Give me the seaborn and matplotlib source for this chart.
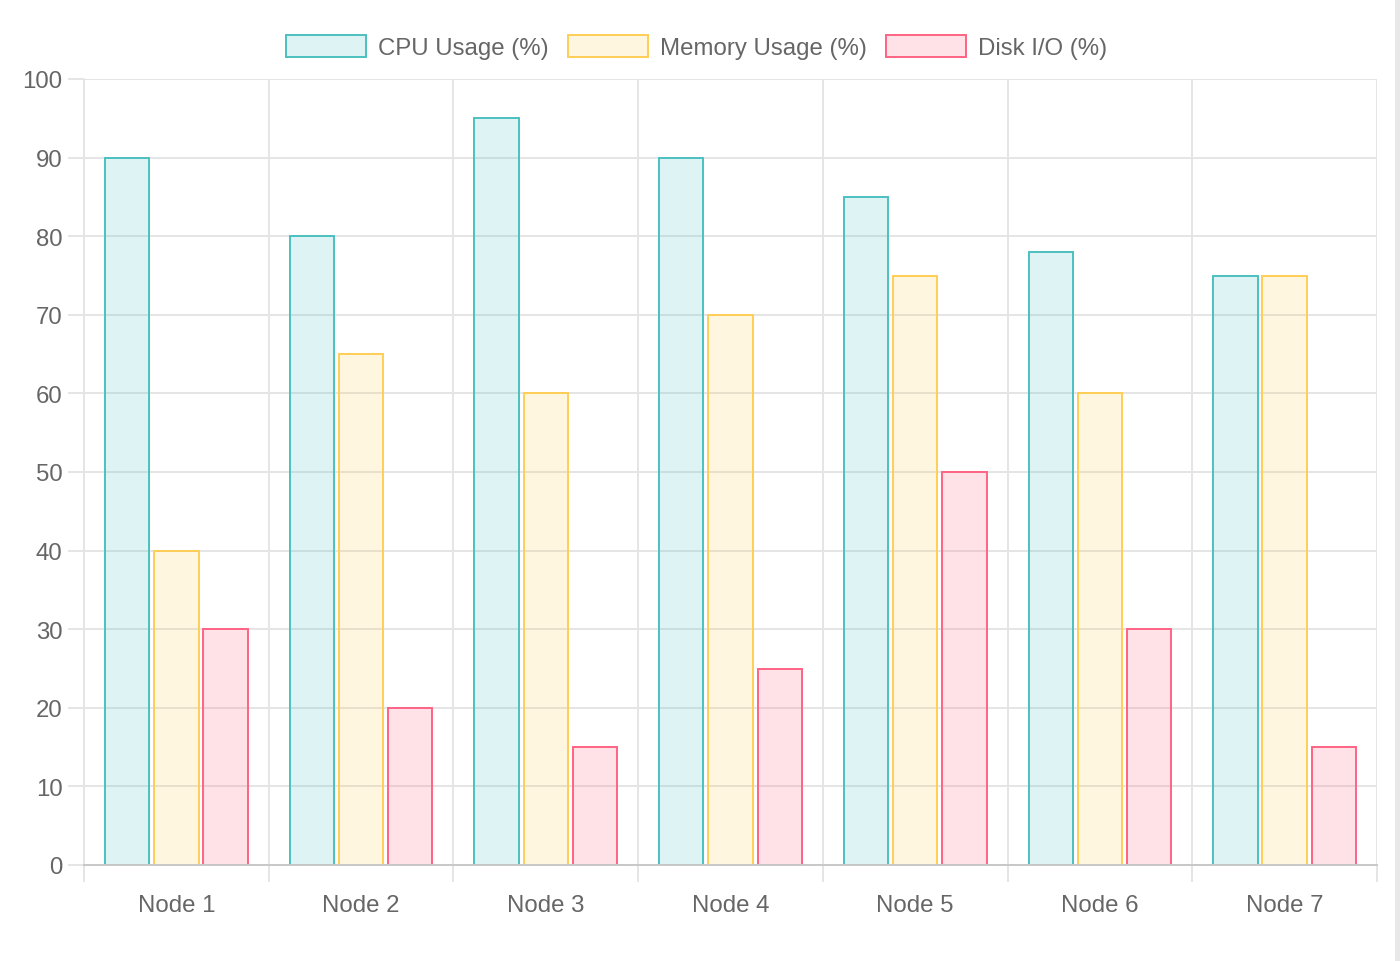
import matplotlib
matplotlib.use("Agg")
import matplotlib.pyplot as plt
import seaborn as sns
import pandas as pd
import numpy as np
from matplotlib.patches import Rectangle, Patch

nodes = ["Node 1", "Node 2", "Node 3", "Node 4", "Node 5", "Node 6", "Node 7"]
cpu_usage = [90, 80, 95, 90, 85, 78, 75]
memory_usage = [40, 65, 60, 70, 75, 60, 75]
disk_io = [30, 20, 15, 25, 50, 30, 15]
series_names = ["CPU Usage (%)", "Memory Usage (%)", "Disk I/O (%)"]
y_ticks = list(range(0, 101, 10))

edge_colors = ["#4bc0c0", "#ffce56", "#ff6384"]
fill_colors = [(75/255, 192/255, 192/255, 0.18), (1.0, 206/255, 86/255, 0.18), (1.0, 99/255, 132/255, 0.18)]

df = pd.DataFrame({
    "node": nodes * 3,
    "series": [series_names[0]] * 7 + [series_names[1]] * 7 + [series_names[2]] * 7,
    "value": cpu_usage + memory_usage + disk_io,
})

sns.set_theme(style="white")
plt.rcParams["font.family"] = ["Liberation Sans", "DejaVu Sans"]

DPI = 100
fig = plt.figure(figsize=(14, 9.62), dpi=DPI)
ax = fig.add_axes([84/1400, (962-866)/962, (1377-84)/1400, (866-80)/962])

sns.barplot(data=df, x="node", y="value", hue="series", order=nodes, hue_order=series_names,
            palette=fill_colors, width=0.8, gap=0.1, ax=ax, legend=False, saturation=1)

for cont, ec, fc in zip(ax.containers, edge_colors, fill_colors):
    for bar in cont:
        bar.set_facecolor(fc)
        bar.set_edgecolor(ec)
        bar.set_linewidth(1.4)

text_color = "#666666"
grid_color = "#e5e5e5"
fs = 17.3

ax.set_xlim(-0.5, len(nodes) - 0.5)
ax.set_ylim(0, 100)
ax.set_yticks(y_ticks)
ax.set_yticklabels([str(t) for t in y_ticks])
ax.set_xticks(range(len(nodes)))
ax.set_xticks(np.arange(-0.5, len(nodes), 1.0), minor=True)
ax.set_xlabel("")
ax.set_ylabel("")

ax.grid(False)
ax.yaxis.grid(True, color=grid_color, linewidth=1.4)
ax.xaxis.grid(True, which="minor", color=grid_color, linewidth=1.4)
ax.set_axisbelow(True)

ax.tick_params(axis="y", which="major", left=True, length=11.5, width=1.4, color=grid_color,
               labelcolor=text_color, labelsize=fs, pad=4)
ax.tick_params(axis="x", which="major", bottom=True, length=0, labelcolor=text_color, labelsize=fs, pad=21)
ax.tick_params(axis="x", which="minor", bottom=True, length=12, width=1.4, color=grid_color)

for s in ["top", "right"]:
    ax.spines[s].set_visible(False)
ax.spines["left"].set_color(grid_color)
ax.spines["left"].set_linewidth(1.4)
ax.spines["bottom"].set_color("#c8c8c8")
ax.spines["bottom"].set_linewidth(1.4)
ax.spines["bottom"].set_zorder(5)

handles = [Patch(facecolor=fc, edgecolor=ec, linewidth=1.4) for fc, ec in zip(fill_colors, edge_colors)]
fig.legend(handles, series_names, loc="center", bbox_to_anchor=(697/1400, 1 - 48/962),
           ncol=3, frameon=False, fontsize=fs, labelcolor=text_color,
           handlelength=3.33, handleheight=1.0, handletextpad=0.5, columnspacing=0.8,
           borderpad=0, borderaxespad=0)

fig.patches.append(Rectangle((1395/1400, 0), 5/1400, 1, transform=fig.transFigure,
                             facecolor="#e8e8e8", edgecolor="none"))

fig.savefig("out.png", dpi=DPI)
